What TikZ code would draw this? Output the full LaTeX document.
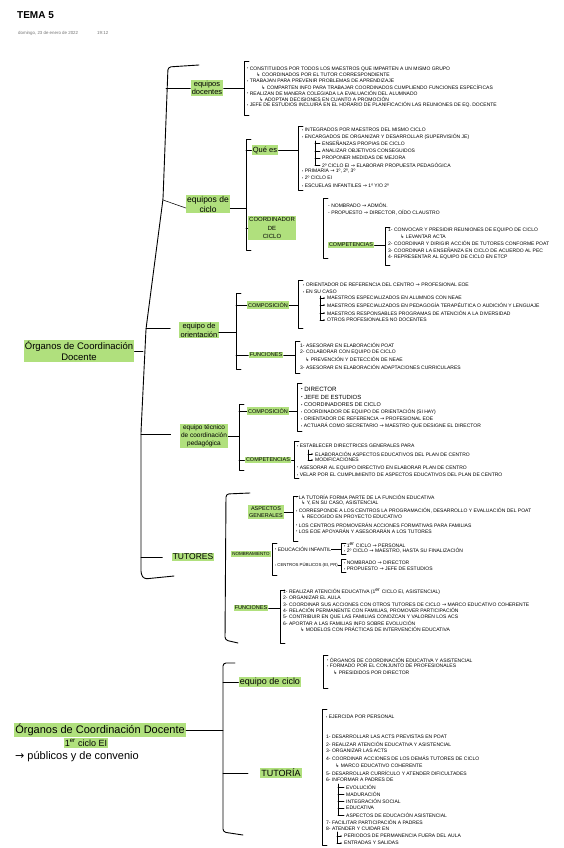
\documentclass[tikz,border=0pt]{standalone}
\usepackage{fontspec}
\setmainfont{Liberation Sans}
\newfontfamily\symf{DejaVu Sans}
\usetikzlibrary{arrows.meta}
\definecolor{hl}{RGB}{176,224,125}
\newcommand\arr{{\symf →}}
\newcommand\hkar{{\symf ↳}}
\newcommand\bul{\raisebox{0.3pt}{\scalebox{0.7}{•}}}
\newcommand\itm[3]{\node[tx] (#1) at (#2) {#3};}
\newcommand\brk[3]{\draw[brk] ({#1+5},#2) -- (#1,#2) -- (#1,#3) -- ({#1+5},#3);}
\newcommand\tk[3]{\draw[brk] (#1,#3) -- (#2,#3);}
\newcommand\tka[3]{\draw[brk,-{Stealth[length=1.6pt,width=1.6pt]}] (#1,#3) -- (#2,#3);}
\tikzset{
 tx/.style={anchor=west, inner sep=0pt, font=\fontsize{5}{6}\selectfont},
 lbl/.style={fill=hl, inner sep=1.2pt, align=center},
 brk/.style={line width=0.55pt, line join=round, line cap=round},
 mbrk/.style={line width=0.9pt, line join=round, line cap=round, rounded corners=3pt},
}
\begin{document}
\begin{tikzpicture}[x=1pt,y=-1pt]
\useasboundingbox (0,0) rectangle (563,848);
% header
\node[anchor=west, inner sep=0pt, font=\fontsize{10}{12}\selectfont\bfseries] (title) at (17,15) {TEMA 5};
\node[anchor=west, inner sep=0pt, font=\fontsize{4.4}{5}\selectfont, text=black!55] (date) at (18,33) {domingo, 23 de enero de 2022};
\node[anchor=west, inner sep=0pt, font=\fontsize{4.4}{5}\selectfont, text=black!55] (time) at (97,33) {19:12};

% ===== section 1 =====
\node[lbl, font=\fontsize{9.5}{11}\selectfont] (o1) at (79,351) {Órganos de Coordinación\\Docente};
\draw[mbrk] (199,65) -- (168,67) -- (163,199) -- (146,329) -- (141,432) -- (141,574) -- (144,579) -- (174,576);
\coordinate (mb1) at (143,0);
\draw[mbrk] (o1.east) -- (o1.east -| mb1);

% equipos docentes
\node[lbl, font=\fontsize{7.5}{8.5}\selectfont] (ed) at (207,88) {equipos\\docentes};
\coordinate (k1) at (166,88);
\draw[brk] (k1) -- (ed.west);
\brk{244}{61}{115}
\coordinate (bed) at (244,88);
\draw[brk] (ed.east) -- (ed.east -| bed);
\itm{ed1}{247,69}{\bul\ CONSTITUIDOS POR TODOS LOS MAESTROS QUE IMPARTEN A UN MISMO GRUPO}
\itm{ed2}{256,75}{\hkar\ COORDINADOS POR EL TUTOR CORRESPONDIENTE}
\itm{ed3}{247,81}{\bul\ TRABAJAN PARA PREVENIR PROBLEMAS DE APRENDIZAJE}
\itm{ed4}{261,87}{\hkar\ COMPARTEN INFO PARA TRABAJAR COORDINADOS CUMPLIENDO FUNCIONES ESPECÍFICAS}
\itm{ed5}{247,93}{\bul\ REALIZAN DE MANERA COLEGIADA LA EVALUACIÓN DEL ALUMNADO}
\itm{ed6}{259,99}{\hkar\ ADOPTAN DECISIONES EN CUANTO A PROMOCIÓN}
\itm{ed7}{247,105}{\bul\ JEFE DE ESTUDIOS INCLUIRÁ EN EL HORARIO DE PLANIFICACIÓN LAS REUNIONES DE EQ. DOCENTE}

% equipos de ciclo
\node[lbl, font=\fontsize{8.5}{10}\selectfont] (edc) at (208,204) {equipos de\\ciclo};
\coordinate (k2) at (163,200);
\draw[brk] (k2) -- ([yshift=-4pt]edc.west);
\brk{246}{139}{250}
\coordinate (bedc) at (246,0);
\draw[brk] ([yshift=-4pt]edc.east) -- ([yshift=-4pt]edc.east -| bedc);
\node[lbl, font=\fontsize{7.5}{8}\selectfont] (qe) at (265,150) {Qué es};
\draw[brk] (qe.west -| bedc) -- (qe.west);
\brk{298}{126}{190}
\coordinate (bqe) at (298,0);
\draw[brk] (qe.east) -- (qe.east -| bqe);
\itm{q1}{302,130}{\bul\ INTEGRADOS POR MAESTROS DEL MISMO CICLO}
\itm{q2}{302,137}{\bul\ ENCARGADOS DE ORGANIZAR Y DESARROLLAR (SUPERVISIÓN JE)}
\draw[brk] (315,141) -- (315,165);
\tk{315}{320}{143}\tk{315}{320}{151}\tk{315}{320}{158}\tk{315}{320}{165}
\itm{q3}{322,143}{ENSEÑANZAS PROPIAS DE CICLO}
\itm{q4}{322,151}{ANALIZAR OBJETIVOS CONSEGUIDOS}
\itm{q5}{322,158}{PROPONER MEDIDAS DE MEJORA}
\itm{q6}{322,165}{2º CICLO EI \arr\ ELABORAR PROPUESTA PEDAGÓGICA}
\itm{q7}{302,171}{\bul\ PRIMARIA \arr\ 1º, 2º, 3º}
\itm{q8}{302,178}{\bul\ 2º CICLO EI}
\itm{q9}{302,186}{\bul\ ESCUELAS INFANTILES \arr\ 1º Y/O 2º}

\node[lbl, font=\fontsize{6}{8.5}\selectfont] (cc) at (272,228) {COORDINADOR\\DE\\CICLO};
\draw[brk] (cc.west -| bedc) -- (cc.west);
\brk{323}{198}{258}
\itm{c1}{328,205}{- NOMBRADO \arr\ ADMÓN.}
\itm{c2}{328,213}{- PROPUESTO \arr\ DIRECTOR, OÍDO CLAUSTRO}
\node[lbl, font=\fontsize{5.5}{6}\selectfont] (cmp) at (351,245) {COMPETENCIAS};
\brk{385}{227}{265}
\coordinate (bcmp) at (385,0);
\draw[brk] (cmp.east) -- (cmp.east -| bcmp);
\itm{c3}{388,230}{1- CONVOCAR Y PRESIDIR REUNIONES DE EQUIPO DE CICLO}
\itm{c4}{400,237}{\hkar\ LEVANTAR ACTA}
\itm{c5}{388,243}{2- COORDINAR Y DIRIGIR ACCIÓN DE TUTORES CONFORME POAT}
\itm{c6}{388,250}{3- COORDINAR LA ENSEÑANZA EN CICLO DE ACUERDO AL PEC}
\itm{c7}{388,257}{4- REPRESENTAR AL EQUIPO DE CICLO EN ETCP}

% equipo de orientación
\node[lbl, font=\fontsize{7.5}{9}\selectfont] (eo) at (199,330) {equipo de\\orientación};
\coordinate (k3) at (146,328);
\draw[brk] (k3) -- ([xshift=-9pt]k3 -| eo.west);
\brk{236}{293}{369}
\coordinate (beo) at (236,0);
\draw[brk] ([yshift=-2pt]eo.east) -- ([yshift=-2pt]eo.east -| beo);
\node[lbl, font=\fontsize{5.5}{6}\selectfont] (co1) at (268,305) {COMPOSICIÓN};
\draw[brk] (co1.west -| beo) -- (co1.west);
\brk{298}{280}{328}
\coordinate (bco1) at (298,0);
\draw[brk] (co1.east) -- (co1.east -| bco1);
\itm{o1a}{303,285}{\bul\ ORIENTADOR DE REFERENCIA DEL CENTRO \arr\ PROFESIONAL EOE}
\itm{o1b}{303,292}{\bul\ EN SU CASO}
\draw[brk] (320,296) -- (320,320);
\tka{320}{325}{298}\tka{320}{325}{305}\tka{320}{325}{313}\tka{320}{325}{320}
\itm{o1c}{327,298}{MAESTROS ESPECIALIZADOS EN ALUMNOS CON NEAE}
\itm{o1d}{327,305}{MAESTROS ESPECIALIZADOS EN PEDAGOGÍA TERAPÉUTICA O AUDICIÓN Y LENGUAJE}
\itm{o1e}{327,313}{MAESTROS RESPONSABLES PROGRAMAS DE ATENCIÓN A LA DIVERSIDAD}
\itm{o1f}{327,320}{OTROS PROFESIONALES NO DOCENTES}
\node[lbl, font=\fontsize{5.5}{6}\selectfont] (fu1) at (266,355) {FUNCIONES};
\draw[brk] (fu1.west -| beo) -- (fu1.west);
\brk{295}{341}{373}
\coordinate (bfu1) at (295,0);
\draw[brk] (fu1.east) -- (fu1.east -| bfu1);
\itm{f1a}{300,345}{1- ASESORAR EN ELABORACIÓN POAT}
\itm{f1b}{300,352}{2- COLABORAR CON EQUIPO DE CICLO}
\itm{f1c}{305,359}{\hkar\ PREVENCIÓN Y DETECCIÓN DE NEAE}
\itm{f1d}{300,367}{3- ASESORAR EN ELABORACIÓN ADAPTACIONES CURRICULARES}

% equipo técnico
\node[lbl, font=\fontsize{6.5}{7.8}\selectfont] (et) at (204,436) {equipo técnico\\de coordinación\\pedagógica};
\coordinate (k4) at (141,434);
\draw[brk] (k4) -- ([xshift=-9pt]k4 -| et.west);
\brk{239}{404}{470}
\coordinate (bet) at (239,0);
\draw[brk] (et.east) -- (et.east -| bet);
\node[lbl, font=\fontsize{5.5}{6}\selectfont] (co2) at (268,411) {COMPOSICIÓN};
\draw[brk] (co2.west -| bet) -- (co2.west);
\brk{297}{383}{431}
\coordinate (bco2) at (297,0);
\draw[brk] (co2.east) -- (co2.east -| bco2);
\node[tx, font=\fontsize{6.2}{7}\selectfont] (t1) at (301,389) {\bul\ DIRECTOR};
\node[tx, font=\fontsize{6}{7}\selectfont] (t2) at (301,397) {\bul\ JEFE DE ESTUDIOS};
\node[tx, font=\fontsize{5.5}{6}\selectfont] (t3) at (301,405) {\bul\ COORDINADORES DE CICLO};
\itm{t4}{301,412}{\bul\ COORDINADOR DE EQUIPO DE ORIENTACIÓN (SI HAY)}
\itm{t5}{301,419}{\bul\ ORIENTADOR DE REFERENCIA \arr\ PROFESIONAL EOE}
\itm{t6}{301,426}{\bul\ ACTUARÁ COMO SECRETARIO \arr\ MAESTRO QUE DESIGNE EL DIRECTOR}
\node[lbl, font=\fontsize{5.5}{6}\selectfont] (cp2) at (268,460) {COMPETENCIAS};
\draw[brk] (cp2.west -| bet) -- (cp2.west);
\brk{294}{441}{478}
\coordinate (bcp2) at (294,0);
\draw[brk] (cp2.east) -- (cp2.east -| bcp2);
\itm{t7}{297,446}{\bul\ ESTABLECER DIRECTRICES GENERALES PARA}
\draw[brk] (308,450) -- (308,460);
\tka{308}{313}{454}\tka{308}{313}{460}
\itm{t8}{315,454}{ELABORACIÓN ASPECTOS EDUCATIVOS DEL PLAN DE CENTRO}
\itm{t9}{315,460}{MODIFICACIONES}
\itm{t10}{297,468}{\bul\ ASESORAR AL EQUIPO DIRECTIVO EN ELABORAR PLAN DE CENTRO}
\itm{t11}{297,475}{\bul\ VELAR POR EL CUMPLIMIENTO DE ASPECTOS EDUCATIVOS DEL PLAN DE CENTRO}

% tutores
\node[lbl, font=\fontsize{8.5}{9}\selectfont] (tu) at (193,557) {TUTORES};
\coordinate (k5) at (141,557);
\draw[brk] (k5) -- ([xshift=-9pt]tu.west);
\draw[mbrk] (250,493) -- (226,494) -- (225,640) -- (238,643);
\coordinate (btu) at (225,0);
\node[lbl, font=\fontsize{5.5}{7}\selectfont] (ag) at (266,512) {ASPECTOS\\GENERALES};
\draw[brk] (ag.east) -- (ag.east -| 293,0);
\brk{293}{496}{541}
\itm{g1}{296,497}{\bul\ LA TUTORÍA FORMA PARTE DE LA FUNCIÓN EDUCATIVA}
\itm{g2}{301,503}{\hkar\ Y, EN SU CASO, ASISTENCIAL}
\itm{g3}{296,511}{\bul\ CORRESPONDE A LOS CENTROS LA PROGRAMACIÓN, DESARROLLO Y EVALUACIÓN DEL POAT}
\itm{g4}{301,517}{\hkar\ RECOGIDO EN PROYECTO EDUCATIVO}
\itm{g5}{296,525}{\bul\ LOS CENTROS PROMOVERÁN ACCIONES FORMATIVAS PARA FAMILIAS}
\itm{g6}{296,531}{\bul\ LOS EOE APOYARÁN Y ASESORARÁN A LOS TUTORES}
\node[lbl, font=\fontsize{4.5}{5}\selectfont] (nb) at (251,554) {NOMBRAMIENTO};
\brk{272}{543}{575}
\itm{n1}{275,549}{\bul\ EDUCACIÓN INFANTIL}
\brk{341}{543}{554}
\coordinate (bn1) at (341,0);
\draw[brk] (n1.east) -- (n1.east -| bn1);
\itm{n2}{344,545}{\bul\ 1\textsuperscript{er} CICLO \arr\ PERSONAL}
\itm{n3}{344,551}{\bul\ 2º CICLO \arr\ MAESTRO, HASTA SU FINALIZACIÓN}
\node[tx, font=\fontsize{4.3}{5}\selectfont] (n4) at (275,565) {\bul\ CENTROS PÚBLICOS (EI, PR)};
\brk{341}{559}{572}
\coordinate (bn4) at (341,0);
\draw[brk] (n4.east) -- (n4.east -| bn4);
\itm{n5}{344,563}{\bul\ NOMBRADO \arr\ DIRECTOR}
\itm{n6}{344,569}{\bul\ PROPUESTO \arr\ JEFE DE ESTUDIOS}
\node[lbl, font=\fontsize{5.5}{6}\selectfont] (fn) at (251,608) {FUNCIONES};
\brk{280}{590}{643}
\coordinate (bfn) at (280,0);
\draw[brk] (fn.east) -- (fn.east -| bfn);
\itm{u1}{283,592}{1- REALIZAR ATENCIÓN EDUCATIVA (1\textsuperscript{er} CICLO EI, ASISTENCIAL)}
\itm{u2}{283,598}{2- ORGANIZAR EL AULA}
\itm{u3}{283,605}{3- COORDINAR SUS ACCIONES CON OTROS TUTORES DE CICLO \arr\ MARCO EDUCATIVO COHERENTE}
\itm{u4}{283,611}{4- RELACIÓN PERMANENTE CON FAMILIAS, PROMOVER PARTICIPACIÓN}
\itm{u5}{283,617}{5- CONTRIBUIR EN QUE LAS FAMILIAS CONOZCAN Y VALOREN LOS ACS}
\itm{u6}{283,623}{6- APORTAR A LAS FAMILIAS INFO SOBRE EVOLUCIÓN}
\itm{u7}{300,629}{\hkar\ MODELOS CON PRÁCTICAS DE INTERVENCIÓN EDUCATIVA}

% ===== section 2 =====
\node[lbl, anchor=west, font=\fontsize{11}{12}\selectfont] (o2a) at (14,730) {Órganos de Coordinación Docente};
\node[lbl, font=\fontsize{9}{10}\selectfont] (o2b) at (86,743) {1\textsuperscript{er} ciclo EI};
\node[anchor=west, inner sep=0pt, font=\fontsize{11}{12}\selectfont] (o2c) at (15,757) {\arr\ públicos y de convenio};
\draw[mbrk] (235,663) -- (223,663) -- (223,832) -- (243,835);
\coordinate (bo2) at (223,0);
\draw[mbrk] (o2a.east) -- (o2a.east -| bo2);
\node[lbl, font=\fontsize{9}{10}\selectfont] (ec) at (270,682) {equipo de ciclo};
\draw[brk] (ec.west -| bo2) -- (ec.west);
\brk{323}{655}{688}
\itm{e1}{327,660}{\bul\ ÓRGANOS DE COORDINACIÓN EDUCATIVA Y ASISTENCIAL}
\itm{e2}{327,666}{\bul\ FORMADO POR EL CONJUNTO DE PROFESIONALES}
\itm{e3}{333,673}{\hkar\ PRESIDIDOS POR DIRECTOR}
\node[lbl, font=\fontsize{9}{10}\selectfont] (tt) at (281,773) {TUTORÍA};
\coordinate (ttk) at (248,773);
\draw[mbrk] (tt.west -| bo2) -- (ttk);
\brk{322}{709}{845}
\itm{r1}{326,717}{\bul\ EJERCIDA POR PERSONAL}
\itm{r2}{326,737}{1- DESARROLLAR LAS ACTS PREVISTAS EN POAT}
\itm{r3}{326,744}{2- REALIZAR ATENCIÓN EDUCATIVA Y ASISTENCIAL}
\itm{r4}{326,751}{3- ORGANIZAR LAS ACTS}
\itm{r5}{326,758}{4- COORDINAR ACCIONES DE LOS DEMÁS TUTORES DE CICLO}
\itm{r6}{335,766}{\hkar\ MARCO EDUCATIVO COHERENTE}
\itm{r7}{326,773}{5- DESARROLLAR CURRÍCULO Y ATENDER DIFICULTADES}
\itm{r8}{326,780}{6- INFORMAR A PADRES DE}
\draw[brk] (338,784) -- (338,815);
\tk{338}{344}{787}\tk{338}{344}{794}\tk{338}{344}{801}\tk{338}{344}{808}\tk{338}{344}{815}
\itm{r9}{346,787}{EVOLUCIÓN}
\itm{r10}{346,794}{MADURACIÓN}
\itm{r11}{346,801}{INTEGRACIÓN SOCIAL}
\itm{r12}{346,808}{EDUCATIVA}
\itm{r13}{346,815}{ASPECTOS DE EDUCACIÓN ASISTENCIAL}
\itm{r14}{326,822}{7- FACILITAR PARTICIPACIÓN A PADRES}
\itm{r15}{326,829}{8- ATENDER Y CUIDAR EN}
\draw[brk] (337,832) -- (337,843);
\tka{337}{342}{836}\tka{337}{342}{843}
\itm{r16}{344,836}{PERIODOS DE PERMANENCIA FUERA DEL AULA}
\itm{r17}{344,843}{ENTRADAS Y SALIDAS}
\end{tikzpicture}
\end{document}
